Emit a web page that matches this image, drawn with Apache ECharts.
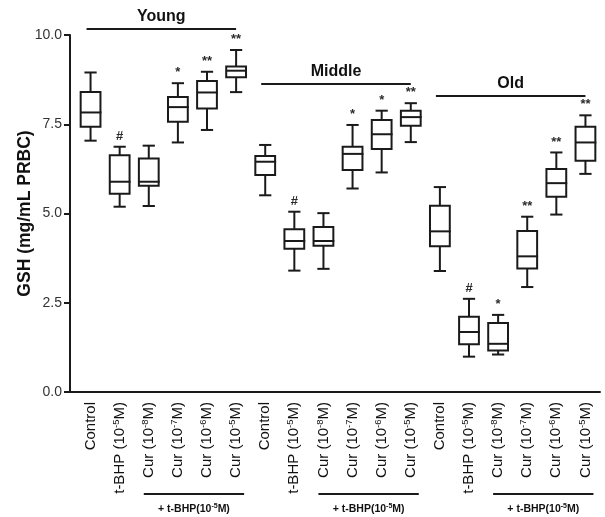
<!DOCTYPE html>
<html>
<head>
<meta charset="utf-8">
<script src="https://cdn.jsdelivr.net/npm/echarts@6/dist/echarts.min.js"></script>
<style>html,body{margin:0;padding:0;background:#fff}#c{width:605px;height:517px}</style>
</head>
<body>
<div id="c"></div>
<script>
const categories = [
  'Control','t-BHP (10^-5M)','Cur (10^-8M)','Cur (10^-7M)','Cur (10^-6M)','Cur (10^-5M)',
  'Control','t-BHP (10^-5M)','Cur (10^-8M)','Cur (10^-7M)','Cur (10^-6M)','Cur (10^-5M)',
  'Control','t-BHP (10^-5M)','Cur (10^-8M)','Cur (10^-7M)','Cur (10^-6M)','Cur (10^-5M)'
];
const lowWhisker  = [7.04,5.19,5.21,6.99,7.34,8.40, 5.51,3.40,3.45,5.70,6.15,7.00, 3.39,0.99,1.05,2.94,4.97,6.11];
const q1Values    = [7.43,5.55,5.78,7.57,7.94,8.82, 6.08,4.01,4.10,6.22,6.81,7.46, 4.08,1.34,1.16,3.46,5.47,6.48];
const medianVals  = [7.83,5.89,5.89,7.98,8.39,9.00, 6.45,4.23,4.23,6.67,7.22,7.70, 4.50,1.68,1.35,3.80,5.85,6.99];
const q3Values    = [8.40,6.63,6.54,8.26,8.71,9.12, 6.61,4.56,4.62,6.87,7.62,7.88, 5.22,2.11,1.93,4.51,6.25,7.43];
const highWhisker = [8.95,6.87,6.90,8.65,8.97,9.58, 6.92,5.05,5.01,7.48,7.88,8.09, 5.74,2.61,2.16,4.91,6.71,7.75];
const markers     = ['','#','','*','**','**', '','#','','*','*','**', '','#','*','**','**','**'];
const groupNames  = ['Young','Middle','Old'];
const groupStart  = [0,6,12];
const yTicks      = [0,2.5,5,7.5,10];

const data = categories.map((c,i)=>[i,lowWhisker[i],q1Values[i],medianVals[i],q3Values[i],highWhisker[i],markers[i]]);

const chart = echarts.init(document.getElementById('c'), null, {renderer:'canvas'});
const FONT = 'Liberation Sans, Arial, sans-serif';
const LC = '#1a1a1a';

function fmtLabel(s){ return s.replace(/\^(-\d)/, '{sup|$1}'); }

chart.setOption({
  animation:false,
  grid:{left:76,right:5,top:35,bottom:125,containLabel:false},
  xAxis:{
    type:'category', data:categories,
    axisLine:{show:true,lineStyle:{color:LC,width:2}},
    axisTick:{show:false},
    axisLabel:{rotate:90, interval:0, margin:10, fontFamily:FONT, fontSize:15, color:'#111',
      formatter:fmtLabel,
      rich:{sup:{fontSize:9.5, fontFamily:FONT, color:'#111', padding:[0,0,7,0]}}}
  },
  yAxis:{
    type:'value', min:0, max:10, interval:2.5, offset:6,
    name:'GSH (mg/mL PRBC)', nameLocation:'middle', nameGap:36, nameMoveOverlap:false,
    nameTextStyle:{fontFamily:FONT, fontSize:17.5, fontWeight:'bold', color:'#111'},
    axisLine:{show:true,lineStyle:{color:LC,width:2}},
    axisTick:{show:true,length:6,lineStyle:{color:LC,width:2}},
    axisLabel:{fontFamily:FONT, fontSize:14, color:'#333', margin:8,
      formatter:v=> yTicks.indexOf(v)>=0 ? v.toFixed(1) : ''},
    splitLine:{show:false}
  },
  series:[{
    type:'custom',
    data:data,
    encode:{x:0,y:[1,2,3,4,5]},
    renderItem:function(params, api){
      const x = api.value(0);
      const band = api.size([1,0])[0];
      const bw = band*0.68, cw = band*0.42;
      const pL = api.coord([x, api.value(1)]);
      const p1 = api.coord([x, api.value(2)]);
      const pM = api.coord([x, api.value(3)]);
      const p3 = api.coord([x, api.value(4)]);
      const pH = api.coord([x, api.value(5)]);
      const cx = pL[0];
      const st = {stroke:LC, lineWidth:2, fill:null};
      const ch = [
        {type:'line', shape:{x1:cx,y1:pH[1],x2:cx,y2:p3[1]}, style:st},
        {type:'line', shape:{x1:cx-cw/2,y1:pH[1],x2:cx+cw/2,y2:pH[1]}, style:st},
        {type:'line', shape:{x1:cx,y1:p1[1],x2:cx,y2:pL[1]}, style:st},
        {type:'line', shape:{x1:cx-cw/2,y1:pL[1],x2:cx+cw/2,y2:pL[1]}, style:st},
        {type:'rect', shape:{x:cx-bw/2,y:p3[1],width:bw,height:p1[1]-p3[1]}, style:{stroke:LC,lineWidth:2,fill:'#fff'}},
        {type:'line', shape:{x1:cx-bw/2,y1:pM[1],x2:cx+bw/2+1,y2:pM[1]}, style:st}
      ];
      const mk = markers[params.dataIndex];
      if(mk){
        ch.push({type:'text', style:{text:mk, x:cx, y:pH[1]-4, textAlign:'center', textVerticalAlign:'bottom',
          fontFamily:FONT, fontSize:13, fontWeight:'bold', fill:'#2a2a2a'}});
      }
      return {type:'group', children:ch};
    }
  }]
});

// decorations: group headers and treatment brackets
const headerY = [29, 84, 96];
const g = [];
const cxOf = i => chart.convertToPixel({xAxisIndex:0}, i);
const y0 = chart.convertToPixel({yAxisIndex:0}, 0);
g.push({type:'line', shape:{x1:69,y1:y0,x2:77,y2:y0}, style:{stroke:LC,lineWidth:2}});
groupNames.forEach((name,k)=>{
  const s = groupStart[k];
  const xa = cxOf(s)-4, xb = cxOf(s+5);
  g.push({type:'line', shape:{x1:xa,y1:headerY[k],x2:xb,y2:headerY[k]}, style:{stroke:LC,lineWidth:2}});
  g.push({type:'text', style:{text:name, x:(xa+xb)/2, y:headerY[k]-4, textAlign:'center', textVerticalAlign:'bottom',
    fontFamily:FONT, fontSize:16, fontWeight:'bold', fill:'#111'}});
  const ba = cxOf(s+2)-5, bb = cxOf(s+5)+8;
  g.push({type:'line', shape:{x1:ba,y1:494,x2:bb,y2:494}, style:{stroke:LC,lineWidth:2}});
  g.push({type:'text', style:{text:'+ t-BHP(10{sup|-5}M)', x:(ba+bb)/2, y:509, textAlign:'center', textVerticalAlign:'middle',
    rich:{sup:{fontSize:7, fontWeight:'bold', fontFamily:FONT, fill:'#111', padding:[0,0,6,0]}},
    fontFamily:FONT, fontSize:10.5, fontWeight:'bold', fill:'#111'}});
});
chart.setOption({graphic:g});
</script>
</body>
</html>
